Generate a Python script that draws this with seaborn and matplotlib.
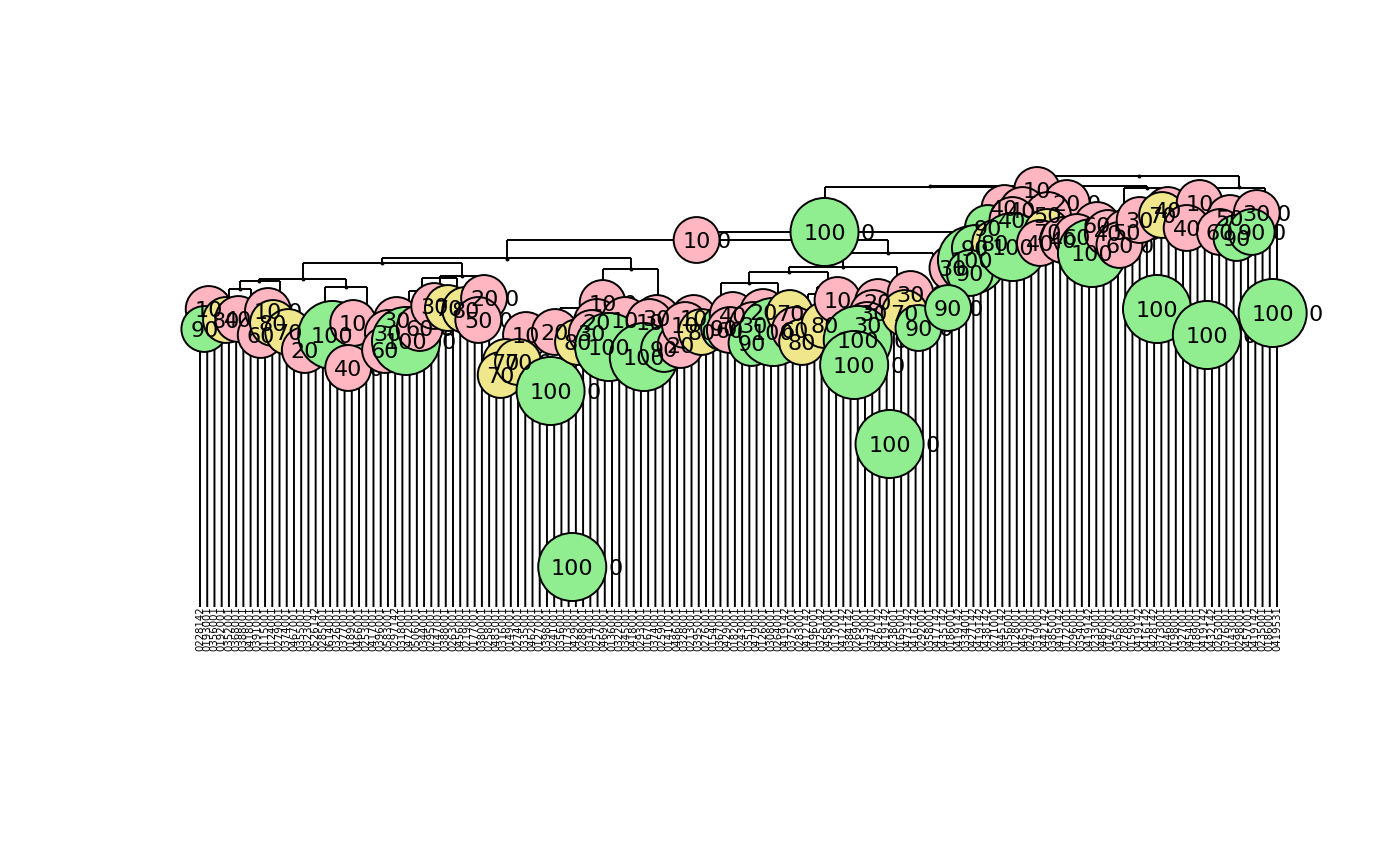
import pandas as pd
import matplotlib
matplotlib.use('Agg')
import matplotlib.pyplot as plt
import seaborn as sns

# Labelled tree nodes: leaf position, merge height and the percentage printed in the circle
node_pos = [2.2, 1.6, 4.6, 6.3, 9.4, 10.4, 11.1, 13.2, 15.5, 19.3, 22.2, 21.5,
            28.2, 27.0, 26.6, 29.5, 31.4, 33.4, 35.3, 37.7, 40.3, 39.5,
            46.1, 43.3, 42.6, 45.0, 49.5, 50.1, 53.3, 56.7, 55.9, 55.2,
            59.8, 57.6, 64.2, 63.2, 62.4, 65.2, 67.5, 69.3, 68.1, 70.4,
            73.5, 74.7, 74.3, 78.9, 77.5, 77.3, 80.3, 82.6, 83.3, 84.3,
            87.4, 89.2, 94.8, 94.1, 93.3, 92.0, 91.5, 99.3, 98.5, 100.4,
            96.4, 52.5, 87.4, 69.7,
            116.8, 112.3, 114.8, 120.9, 118.3, 110.0, 105.1, 107.8, 108.2, 111.0,
            107.5, 104.5, 113.4, 113.4, 118.2, 117.2, 120.4, 125.1, 122.3, 124.4,
            126.6, 129.2, 128.2, 131.0, 134.9, 134.1, 139.3, 137.5, 133.4,
            143.5, 142.1, 147.2, 144.4, 146.5, 140.3, 149.4]
node_height = [2.98, 2.78, 2.87, 2.88, 2.72, 2.96, 2.84, 2.75, 2.57, 2.72, 2.84, 2.39,
               2.87, 2.74, 2.57, 2.66, 2.79, 3.01, 2.99, 2.97, 3.09, 2.87,
               2.72, 2.45, 2.32, 2.45, 2.16, 2.75, 2.65, 3.04, 2.85, 2.74,
               2.87, 2.60, 2.89, 2.85, 2.50, 2.58, 2.62, 2.89, 2.82, 2.75,
               2.79, 2.92, 2.77, 2.95, 2.82, 2.64, 2.75, 2.94, 2.77, 2.65,
               2.82, 3.07, 3.05, 2.94, 2.82, 2.67, 2.42, 3.13, 2.94, 2.79,
               1.63, 0.40, 3.75, 3.67,
               4.17, 3.99, 3.97, 4.04, 3.92, 3.79, 3.39, 3.47, 3.59, 3.64,
               3.34, 2.99, 3.87, 3.60, 3.75, 3.64, 3.67, 3.82, 3.70, 3.54,
               3.74, 3.75, 3.62, 3.87, 3.97, 3.92, 4.04, 3.79, 2.98,
               3.89, 3.75, 3.94, 3.69, 3.75, 2.72, 2.94]
node_value = [10, 90, 80, 40, 60, 10, 80, 70, 20, 100, 10, 40,
              30, 30, 60, 100, 60, 30, 70, 80, 20, 50,
              10, 70, 70, 70, 100, 20, 80, 10, 20, 30,
              10, 100, 30, 10, 100, 90, 20, 10, 10, 80,
              90, 40, 60, 20, 30, 90, 100, 70, 60, 80,
              80, 10, 20, 30, 30, 100, 100, 30, 70, 90,
              100, 100, 100, 10,
              10, 40, 40, 20, 50, 90, 30, 100, 90, 80,
              90, 90, 40, 100, 70, 40, 40, 60, 60, 100,
              40, 50, 60, 30, 40, 70, 10, 40, 100,
              50, 60, 30, 90, 90, 100, 100]

# Branches: horizontal bar from left to right at a height, each side dropping to its child
link_left = [116.8, 102.0, 87.4, 128.9, 141.1, 69.7, 43.5, 26.2, 15.2, 9.2, 6.5, 5.0,
             18.3, 34.2, 31.7, 56.7, 89.9, 82.5, 76.9, 73.1, 86.3, 85.1, 50.8, 29.9]
link_right = [144.7, 132.0, 116.5, 135.0, 148.3, 108.2, 96.2, 60.6, 37.2, 21.2, 12.1, 8.1,
              24.1, 40.4, 36.5, 64.3, 102.4, 97.4, 87.9, 80.9, 90.2, 88.1, 55.0, 34.2]
link_height = [4.31, 4.21, 4.20, 4.19, 4.19, 3.75, 3.67, 3.49, 3.44, 3.28, 3.26, 3.18,
               3.20, 3.31, 3.29, 3.38, 3.54, 3.40, 3.35, 3.24, 3.20, 3.13, 2.99, 3.16]
drop_left = [4.21, 4.19, 3.75, 3.95, 3.95, 3.67, 3.48, 3.44, 3.28, 3.26, 3.18, 3.00,
             3.00, 3.00, 3.00, 3.10, 3.40, 3.35, 3.24, 2.95, 3.00, 3.00, 2.80, 3.00]
drop_right = [4.20, 4.19, 3.90, 3.95, 3.95, 3.59, 3.54, 3.38, 3.31, 3.19, 3.10, 3.00,
              2.95, 3.10, 3.00, 3.10, 3.30, 3.15, 3.15, 3.00, 3.00, 3.00, 2.80, 3.00]

# Unlabelled nodes show only as a small dot
dot_pos = [130.9, 144.7, 132.0, 102.0, 96.2, 89.9, 82.5, 76.9,
           43.5, 60.6, 26.2, 15.2, 9.2, 6.5, 21.2, 37.2]
dot_height = [4.31, 4.20, 4.19, 4.21, 3.54, 3.40, 3.35, 3.24,
              3.48, 3.38, 3.44, 3.28, 3.26, 3.18, 3.20, 3.31]

# Height where each of the 150 leaves joins the tree
leaf_top = [2.85, 2.85, 2.85, 2.85, 2.87, 2.87, 2.87, 2.87, 2.75, 2.75,
            2.75, 2.75, 2.70, 2.60, 2.60, 2.60, 2.70, 2.70, 2.70, 2.70,
            2.45, 2.80, 2.80, 2.80, 2.50, 2.60, 2.70, 2.70, 2.70, 2.70,
            2.80, 2.80, 2.90, 2.90, 2.95, 2.95, 2.95, 2.95, 2.90, 2.90,
            2.85, 2.50, 2.40, 2.40, 2.70, 2.70, 2.30, 2.30, 2.30, 2.30,
            2.70, 2.70, 2.65, 2.70, 2.70, 2.75, 2.75, 2.75, 2.75, 2.75,
            2.80, 2.80, 2.80, 2.80, 2.80, 2.80, 2.80, 2.80, 2.80, 2.80,
            2.80, 2.80, 2.80, 2.85, 2.85, 2.85, 2.85, 2.85, 2.85, 2.85,
            2.85, 2.85, 2.85, 2.75, 2.75, 2.80, 2.80, 2.80, 2.90, 2.90,
            2.90, 2.90, 2.95, 2.95, 2.95, 2.95, 2.95, 2.95, 2.95, 2.90,
            2.90, 2.95, 3.00, 3.00, 3.00, 3.30, 3.40, 3.40, 3.40, 3.40,
            3.50, 3.60, 3.60, 3.60, 3.60, 3.60, 3.65, 3.65, 3.65, 3.60,
            3.55, 3.55, 3.55, 3.55, 3.55, 3.55, 3.55, 3.55, 3.70, 3.70,
            3.75, 3.85, 3.85, 3.85, 3.85, 3.80, 3.80, 3.80, 3.80, 3.80,
            3.75, 3.75, 3.75, 3.75, 3.75, 3.75, 3.75, 3.75, 3.85, 3.95]

leaf_labels = [
    '0228142', '0193001', '0356001', '0192001', '0352001', '0368001', '0388001', '0418001', '0391001', '0115001',
    '0124001', '0279001', '0374001', '0467001', '0355001', '0323001', '0526142', '0285001', '0614001', '0326001',
    '0377001', '0189001', '0466001', '0253001', '0417001', '0396001', '0583001', '0297142', '0318001', '0472001',
    '0506001', '0344001', '0295001', '0147001', '0388001', '0263001', '0456001', '0219001', '0177001', '0380001',
    '0258001', '0483001', '0316001', '0149001', '0274001', '0335001', '0462001', '0127001', '0398001', '0241001',
    '0356001', '0173001', '0429001', '0288001', '0314001', '0257001', '0469001', '0136001', '0322001', '0345001',
    '0418001', '0293001', '0167001', '0374001', '0259001', '0141001', '0486001', '0328001', '0213001', '0395001',
    '0276001', '0154001', '0367001', '0429001', '0182001', '0243001', '0351001', '0479001', '0126001', '0308001',
    '0264001', '0419142', '0375001', '0283001', '0412142', '0196001', '0325142', '0458001', '0137001', '0412142',
    '0384142', '0269001', '0153001', '0347001', '0426142', '0419142', '0238001', '0165001', '0473142', '0416142',
    '0292001', '0358001', '0417142', '0435142', '0186001', '0419142', '0334001', '0427142', '0419142', '0438142',
    '0271001', '0445142', '0356001', '0128001', '0463001', '0247001', '0319001', '0442142', '0385001', '0419142',
    '0172001', '0296001', '0354001', '0419142', '0233001', '0486001', '0147001', '0365001', '0278001', '0159001',
    '0419142', '0416142', '0428142', '0373001', '0246001', '0198001', '0327001', '0454001', '0189001', '0419142',
    '0432142', '0263001', '0376001', '0143001', '0298001', '0457001', '0419142', '0235001', '0186001', '0419531',
]

node_colours = {'high': 'lightgreen', 'mid': 'khaki', 'low': 'lightpink'}
circle_sizes = {'big': 2400, 'small': 1090}


def value_group(value):
    if value >= 90:
        return 'high'
    if value >= 70:
        return 'mid'
    return 'low'


nodes = pd.DataFrame({'pos': node_pos, 'height': node_height, 'value': node_value})
nodes['group'] = nodes['value'].map(value_group)
nodes['kind'] = ['big' if v == 100 else 'small' for v in nodes['value']]

sns.set_style('white')
fig = plt.figure(figsize=(14, 8.65), dpi=100)
ax = fig.add_axes([200 / 1400, 258 / 865, 1077 / 1400, 431 / 865])
ax.set_xlim(1, 150)
ax.set_ylim(0, 4.31)
ax.axis('off')

# Leaves and branches
leaf_pos = list(range(1, len(leaf_top) + 1))
line_style = dict(color='black', lw=1.4, zorder=1, clip_on=False)
ax.vlines(leaf_pos, 0, leaf_top, snap=False, **line_style)
ax.hlines(link_height, link_left, link_right, **line_style)
ax.vlines(link_left, drop_left, link_height, **line_style)
ax.vlines(link_right, drop_right, link_height, **line_style)
sns.scatterplot(x=dot_pos, y=dot_height, color='black', s=8, linewidth=0,
                zorder=1.5, clip_on=False, legend=False, ax=ax)

# The second label of every node sits beside its circle and stays under the other circles
for row in nodes.itertuples():
    shift = 31 if row.kind == 'big' else 19.5
    ax.annotate('0', (row.pos, row.height), xytext=(shift, 0), textcoords='offset points',
                ha='center', va='center_baseline', fontsize=16, color='black', zorder=2,
                annotation_clip=False)

sns.scatterplot(data=nodes, x='pos', y='height', hue='group', palette=node_colours,
                size='kind', sizes=circle_sizes, edgecolor='black', linewidth=1.4,
                zorder=3, clip_on=False, legend=False, ax=ax)

for row in nodes.itertuples():
    ax.text(row.pos, row.height, str(row.value), ha='center', va='center_baseline',
            fontsize=16, color='black', zorder=4, clip_on=False)

# Leaf names, read upwards and ending just under the leaf
for pos, label in zip(leaf_pos, leaf_labels):
    ax.text(pos, 0.01, label, rotation=90, ha='center', va='top', fontsize=7.3,
            color='black', clip_on=False)

plt.savefig('out.png', dpi=100)
